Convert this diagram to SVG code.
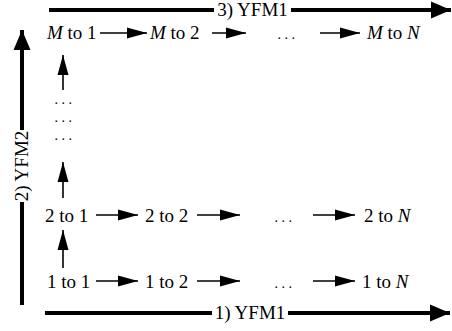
<svg xmlns="http://www.w3.org/2000/svg" width="452" height="331" viewBox="0 0 452 331">
<defs>
<style>
text{font-family:"Liberation Serif","Times New Roman",serif;font-size:19px;fill:#000}
.i{font-style:italic}
.d{font-size:14px;letter-spacing:3.5px}
.thin{stroke:#000;stroke-width:1.6;fill:none;marker-end:url(#ah)}
.thick{stroke:#000;stroke-width:4;fill:none}
.thickA{stroke:#000;stroke-width:4;fill:none;marker-end:url(#bh)}
</style>
<marker id="ah" markerUnits="userSpaceOnUse" markerWidth="20" markerHeight="12" refX="20" refY="6" orient="auto">
<path d="M0,0.5 L20,6 L0,11.5 Z" fill="#000"/>
</marker>
<marker id="bh" markerUnits="userSpaceOnUse" markerWidth="20" markerHeight="18" refX="20" refY="9" orient="auto">
<path d="M0,0.5 L20,9 L0,17.5 Z" fill="#000"/>
</marker>
</defs>
<g id="axes">
<line class="thick" x1="49" y1="10" x2="214" y2="10"/>
<line class="thickA" x1="291" y1="10" x2="451" y2="10"/>
<text x="252.5" y="16" text-anchor="middle">3) YFM1</text>
<line class="thick" x1="45" y1="313" x2="212" y2="313"/>
<line class="thickA" x1="288" y1="313" x2="450" y2="313"/>
<text x="250" y="319" text-anchor="middle">1) YFM1</text>
<line class="thick" x1="22" y1="305" x2="22" y2="202"/>
<line class="thickA" x1="22" y1="130" x2="22" y2="30"/>
<text transform="translate(28,166) rotate(-90)" text-anchor="middle">2) YFM2</text>
</g>
<g id="nodeM1"><text x="47" y="39"><tspan class="i">M</tspan> to 1</text></g>
<g id="nodeM2"><text x="150" y="39"><tspan class="i">M</tspan> to 2</text></g>
<g id="dotsM"><text class="d" x="288" y="39" text-anchor="middle">...</text></g>
<g id="nodeMN"><text x="367" y="39"><tspan class="i">M</tspan> to <tspan class="i">N</tspan></text></g>
<g id="node21"><text x="45" y="222">2 to 1</text></g>
<g id="node22"><text x="145" y="222">2 to 2</text></g>
<g id="dots2"><text class="d" x="285" y="222" text-anchor="middle">...</text></g>
<g id="node2N"><text x="364" y="222">2 to <tspan class="i">N</tspan></text></g>
<g id="node11"><text x="47" y="288">1 to 1</text></g>
<g id="node12"><text x="145" y="288">1 to 2</text></g>
<g id="dots1"><text class="d" x="285" y="288" text-anchor="middle">...</text></g>
<g id="node1N"><text x="362" y="288">1 to <tspan class="i">N</tspan></text></g>
<g id="vdots">
<text class="d" x="65" y="104" text-anchor="middle">...</text>
<text class="d" x="65" y="122" text-anchor="middle">...</text>
<text class="d" x="65" y="140" text-anchor="middle">...</text>
</g>
<g id="connectors">
<line class="thin" x1="100" y1="33" x2="147" y2="33"/>
<line class="thin" x1="212" y1="33" x2="246" y2="33"/>
<line class="thin" x1="320" y1="33" x2="360" y2="33"/>
<line class="thin" x1="96" y1="215" x2="138" y2="215"/>
<line class="thin" x1="197" y1="215" x2="240" y2="215"/>
<line class="thin" x1="313" y1="215" x2="355" y2="215"/>
<line class="thin" x1="96" y1="281" x2="138" y2="281"/>
<line class="thin" x1="197" y1="281" x2="240" y2="281"/>
<line class="thin" x1="313" y1="281" x2="355" y2="281"/>
<line class="thin" x1="63" y1="268" x2="63" y2="230"/>
<line class="thin" x1="63" y1="198" x2="63" y2="162"/>
<line class="thin" x1="63" y1="90" x2="63" y2="55"/>
</g>
</svg>
